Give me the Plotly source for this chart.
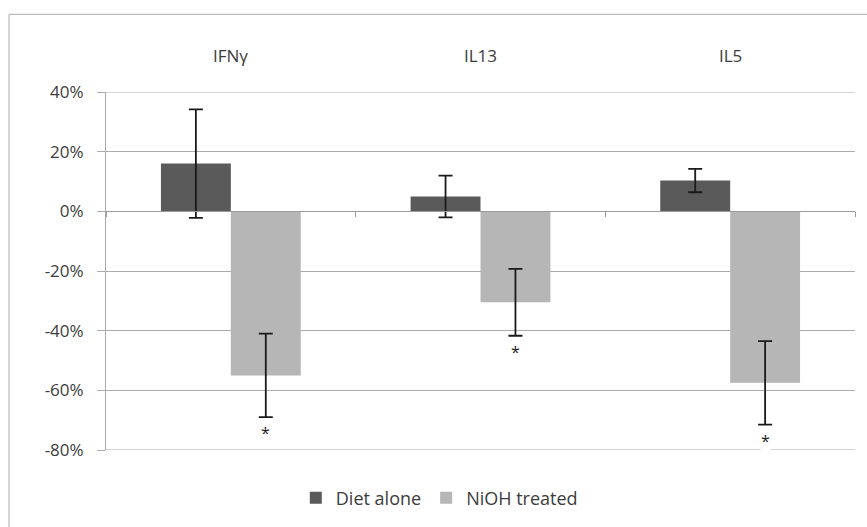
import plotly.graph_objects as go

categories = ["IFNγ", "IL13", "IL5"]
series_names = ["Diet alone", "NiOH treated"]
diet_alone = [0.16, 0.05, 0.103]
diet_alone_err = [0.182, 0.07, 0.039]
nioh_treated = [-0.55, -0.305, -0.575]
nioh_treated_err = [0.14, 0.112, 0.14]
nioh_significant = [True, True, True]

y_ticks = [0.4, 0.2, 0.0, -0.2, -0.4, -0.6, -0.8]
y_tick_labels = ["40%", "20%", "0%", "-20%", "-40%", "-60%", "-80%"]
y_min, y_max = -0.8, 0.4

FONT = "Open Sans"
TXT = "#3c3c3c"
GRID = "#ababab"
bargap = 0.44

fig = go.Figure()
fig.add_trace(go.Bar(
    x=categories, y=diet_alone, name=series_names[0],
    marker=dict(color="#5a5a5a", line=dict(width=0)),
    error_y=dict(type="data", array=diet_alone_err, visible=True,
                 color="#1a1a1a", thickness=1.8, width=7),
))
fig.add_trace(go.Bar(
    x=categories, y=nioh_treated, name=series_names[1],
    marker=dict(color="#b6b6b6", line=dict(width=0)),
    error_y=dict(type="data", array=nioh_treated_err, visible=True,
                 color="#1a1a1a", thickness=1.8, width=7),
))

# category labels above the plot
for i, c in enumerate(categories):
    fig.add_annotation(x=i, xref="x", y=1, yref="paper", yshift=37,
                       text=c, showarrow=False, yanchor="middle",
                       font=dict(family=FONT, size=17, color=TXT))

# significance asterisks below NiOH error bars
offset = (1 - bargap) / 4
for i, (v, e, s) in enumerate(zip(nioh_treated, nioh_treated_err, nioh_significant)):
    if s:
        fig.add_annotation(x=i + offset, xref="x", y=v - e, yref="y",
                           yanchor="top", yshift=-4, text="*", showarrow=False,
                           bgcolor="white", borderpad=0,
                           font=dict(family=FONT, size=16, color="#202020"))

# chart border
fig.add_shape(type="rect", xref="paper", yref="paper",
              x0=-0.1295, x1=1.1, y0=-0.4, y1=1.217,
              line=dict(color=GRID, width=1), layer="below")

# gridlines at the range extremes (plotly omits the edge ones)
for yv in (min(y_ticks), max(y_ticks)):
    fig.add_shape(type="line", xref="paper", yref="y", x0=0, x1=1,
                  y0=yv, y1=yv, line=dict(color=GRID, width=1), layer="below")

zero_pos = (0 - y_min) / (y_max - y_min)

fig.update_layout(
    width=867, height=527,
    margin=dict(l=106, r=12, t=92, b=76),
    paper_bgcolor="white", plot_bgcolor="white",
    barmode="group", bargap=bargap, bargroupgap=0,
    font=dict(family=FONT, size=17, color=TXT),
    legend=dict(orientation="h", x=0.445, xanchor="center",
                y=-0.131, yanchor="middle",
                font=dict(family=FONT, size=18, color=TXT),
                itemwidth=30, tracegroupgap=0),
    xaxis=dict(
        type="category", anchor="free", position=zero_pos,
        showline=True, linecolor="#9a9a9a", linewidth=1,
        ticks="outside", tickson="boundaries", ticklen=5,
        tickcolor="#9a9a9a", showticklabels=False, showgrid=False,
        range=[-0.5, len(categories) - 0.5],
    ),
    yaxis=dict(
        range=[y_min, y_max],
        tickmode="array", tickvals=y_ticks, ticktext=y_tick_labels,
        showline=True, linecolor=GRID, linewidth=1,
        ticks="outside", ticklen=8, tickcolor=GRID,
        showgrid=True, gridcolor=GRID, gridwidth=1,
        zeroline=False, ticklabelstandoff=10,
        tickfont=dict(family=FONT, size=17, color=TXT),
    ),
)

fig.write_html("out.html")
